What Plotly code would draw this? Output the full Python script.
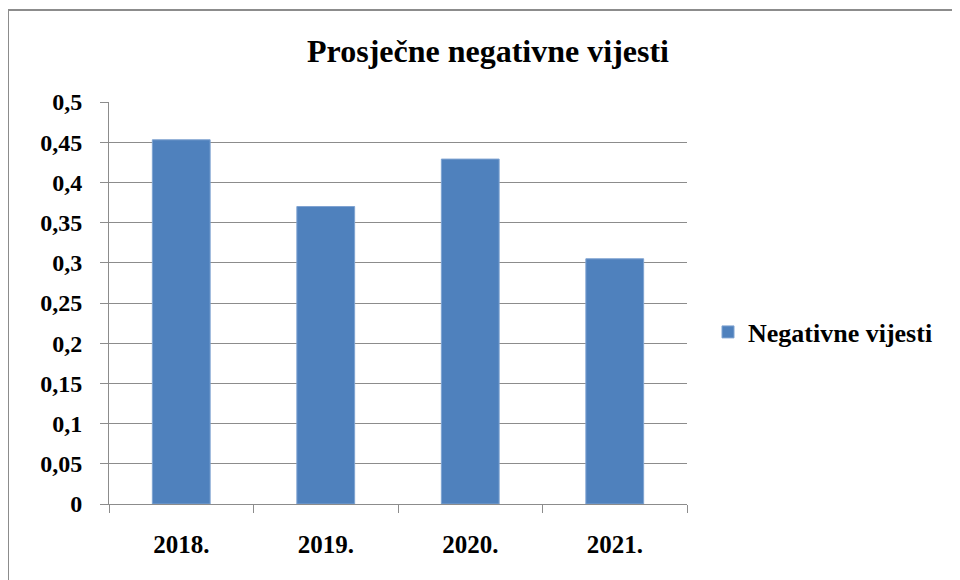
import plotly.graph_objects as go

categories = ["2018.", "2019.", "2020.", "2021."]
values = [0.453, 0.370, 0.429, 0.305]
series_name = "Negativne vijesti"
title_text = "Prosječne negativne vijesti"

# page is rendered with an 8px body margin, so work in figure coords = page - 8
OFF = 8
W, H = 960, 580
L, T = 109 - OFF, 102 - OFF
pw, ph = 578, 402
R = W - L - pw
B = H - T - ph

def px(X):
    return (X - OFF - L) / pw

def py(Y):
    return (T + ph - (Y - OFF)) / ph

font_fam = "Liberation Serif"

fig = go.Figure()
fig.add_trace(go.Bar(
    x=categories, y=values, name=series_name,
    marker=dict(color="#4F81BD", line=dict(color="#7FA3D1", width=1)),
    width=0.4, showlegend=True,
))

fig.update_layout(
    width=W, height=H,
    margin=dict(l=L, r=R, t=T, b=B, autoexpand=False),
    paper_bgcolor="white", plot_bgcolor="white",
    separators=", ",
    font=dict(family=font_fam, size=24, color="black", weight="bold"),
    title=dict(text=title_text, x=(488 - OFF) / W, xanchor="center",
               y=1 - (51 - OFF) / H, yanchor="middle", yref="container", xref="container",
               font=dict(family=font_fam, size=32, color="black", weight="bold")),
    showlegend=True,
    legend=dict(x=px(708), xanchor="left", y=py(332), yanchor="middle",
                font=dict(family=font_fam, size=26, color="black", weight="bold"),
                bgcolor="rgba(0,0,0,0)", itemwidth=30),
    yaxis=dict(range=[0, 0.5], dtick=0.05, tick0=0, showgrid=True,
               gridcolor="#8c8c8c", gridwidth=1, showline=True, linecolor="#8c8c8c",
               linewidth=1, ticks="outside", ticklen=8, tickcolor="#8c8c8c",
               ticklabelstandoff=13, zeroline=False,
               tickfont=dict(family=font_fam, size=24, color="black", weight="bold")),
    xaxis=dict(showline=True, linecolor="#8c8c8c", linewidth=1, ticks="outside",
               tickson="boundaries", ticklen=8, tickcolor="#8c8c8c", showgrid=False,
               ticklabelstandoff=18,
               tickfont=dict(family=font_fam, size=25, color="black", weight="bold")),
    bargap=0.6,
)

fig.update_layout(shapes=[
    dict(type="line", xref="paper", yref="paper", x0=px(8), x1=px(8), y0=py(10), y1=py(700),
         line=dict(color="#8c8c8c", width=2)),
    dict(type="line", xref="paper", yref="paper", x0=px(8), x1=px(1100), y0=py(10), y1=py(10),
         line=dict(color="#8c8c8c", width=2)),
])

fig.write_html("out.html")
